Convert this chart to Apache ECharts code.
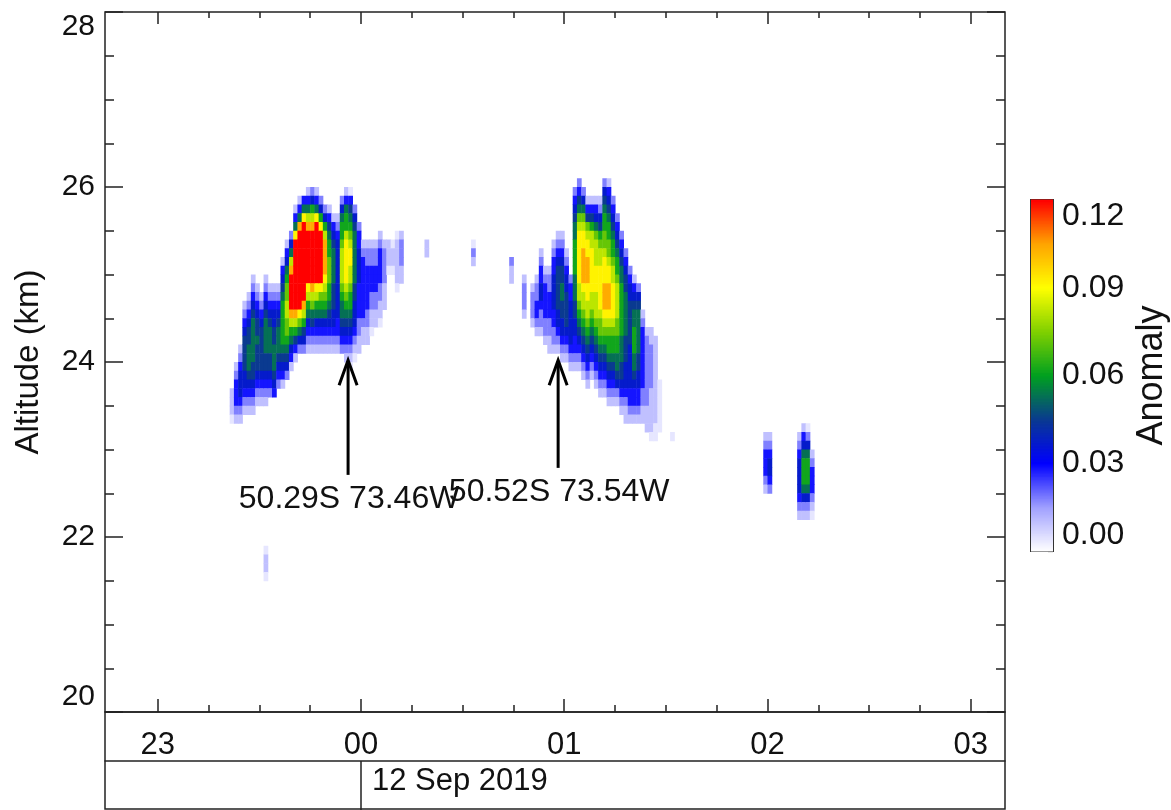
<!DOCTYPE html>
<html>
<head>
<meta charset="utf-8">
<title>Altitude anomaly</title>
<script src="https://cdn.jsdelivr.net/npm/echarts@6/dist/echarts.min.js"></script>
<style>
  html, body { margin: 0; padding: 0; background: #ffffff; }
  #chart { width: 1171px; height: 810px; }
</style>
</head>
<body>
<div id="chart"></div>
<script>
// Retrieval grid: columns of 1.25 min counted from 38.75 min before 00 UT, rows of 0.1 km
const colStartMin = -38.75;
const colMinutes = 1.25;
const rowKm = 0.1;

// Level codes used in the profile strings and the anomaly each code stands for
const levelCodes = '123456789ABCD';
const levelValues = [0.004, 0.010, 0.018, 0.028, 0.037, 0.045, 0.053, 0.062, 0.072, 0.082, 0.092, 0.104, 0.120];

// Western plume: [column, altitude of the top of the first cell (km), levels going down]
const westPlume = [
  [0, 23.7, '2221'],
  [1, 24.0, '2344432'],
  [2, 24.2, '234555432'],
  [3, 24.7, '2345666655432'],
  [4, 24.8, '23456677765432'],
  [5, 25.0, '2345677777665432'],
  [6, 24.9, '23456676665432'],
  [7, 24.8, '2345666665432'],
  [8, 25.0, '234567777665432'],
  [9, 24.9, '2345677766543'],
  [10, 24.9, '2345566777654'],
  [11, 24.9, '234567776543'],
  [12, 25.2, '245678888876542'],
  [13, 25.4, '2457899AA9987653'],
  [14, 25.5, '357ACDDDDCA87542'],
  [15, 25.8, '247BDDDDDDDDCA8642'],
  [16, 25.9, '247CDDDDDDDDDB9753'],
  [17, 25.9, '47BDDDDDDDDDCA8653'],
  [18, 26.0, '247ACDDDDDDBA875432'],
  [19, 26.0, '358ACDDDDDDCA976432'],
  [20, 26.0, '247BDDDDDDDBA875432'],
  [21, 25.9, '358BDDDDDDB9875432'],
  [22, 25.8, '358ACCCCBA9875432'],
  [23, 25.8, '24678899988765432'],
  [24, 25.7, '2456777766655432'],
  [25, 25.7, '2345555555554432'],
  [26, 25.9, '357889AAAA98776543'],
  [27, 26.0, '24788ABBBBBA98765432'],
  [28, 26.0, '146789ABBAA9887654321'],
  [29, 25.8, '356777777665554321'],
  [30, 25.6, '344555544443322'],
  [31, 25.4, '234444444322'],
  [32, 25.4, '233444443322'],
  [33, 25.4, '23344433221'],
  [34, 25.4, '2334443322'],
  [35, 25.5, '23444433221'],
  [36, 25.4, '23333222'],
  [37, 25.4, '2221'],
  [38, 25.4, '1221'],
  [39, 25.5, '1222221'],
  [40, 25.5, '233322']
];

// Eastern plume
const eastPlume = [
  [66, 25.2, '322'],
  [69, 25.0, '23332'],
  [71, 24.9, '23332'],
  [72, 25.0, '2334432'],
  [73, 25.3, '2344554332'],
  [74, 25.1, '234444332'],
  [75, 25.1, '2334443322'],
  [76, 25.4, '2344555544332'],
  [77, 25.5, '23456666655432'],
  [78, 25.5, '234566776655432'],
  [79, 25.3, '2345566665432'],
  [80, 25.0, '34455555432'],
  [81, 26.0, '345677888877766554432'],
  [82, 26.1, '34679ABBBBBBAA98765432'],
  [83, 26.0, '3579ABBCCCCBAA98765432'],
  [84, 25.9, '2469ABBCCCBBAA98765432'],
  [85, 25.9, '2468AABBBBBAA98765432'],
  [86, 25.9, '24579AAABBBAAA98765432'],
  [87, 25.9, '235689AABBBBBA998765432'],
  [88, 26.1, '35678899ABBBCCCBA98765432'],
  [89, 26.1, '245678899ABBCCCBA988765432'],
  [90, 25.9, '34567889AABBBBA988765432'],
  [91, 25.7, '34567889AAAA9988776532'],
  [92, 25.5, '345677888888777665432'],
  [93, 25.3, '34566777776665554322'],
  [94, 25.1, '345566666555554432'],
  [95, 25.0, '24567788877654432'],
  [96, 24.9, '3567777766554432'],
  [97, 24.6, '2344444443322'],
  [98, 24.4, '233333333222'],
  [99, 24.4, '2233333222221'],
  [100, 24.3, '222222222211'],
  [101, 23.8, '111111'],
  [104, 23.2, '1']
];

// Isolated cells and the two small plumes after 02 UT
const otherCells = [
  [8, 21.9, '1221'],
  [46, 25.4, '22'],
  [57, 25.4, '132'],
  [126, 23.2, '2344432'],
  [127, 23.2, '2345543'],
  [134, 23.2, '2345555432'],
  [135, 23.3, '24578887532'],
  [136, 23.3, '13578887532'],
  [137, 23.0, '23444321']
];

// Arrowed positions
const arrowTimes = [-3.8, 58.2];          // minutes from 00 UT
const arrowTips = [24.02, 24.02];         // km
const arrowTails = [22.71, 22.79];        // km
const arrowLabels = ['50.29S 73.46W', '50.52S 73.54W'];

// Time axis (minutes from 00 UT, 12 Sep 2019)
const timeMin = -75.55;
const timeMax = 190.1;
const hourTicks = [-60, 0, 60, 120, 180];
const hourLabels = ['23', '00', '01', '02', '03'];
const quarterTicks = [-45, -30, -15, 15, 30, 45, 75, 90, 105, 135, 150, 165];
const dateText = '12 Sep 2019';

// Colour scale
const anomalyMin = 0;
const anomalyMax = 0.12;
const anomalyColors = ['#ffffff', '#a0a0ff', '#0000ff', '#0a3a90', '#00a020', '#80d000', '#ffff00', '#ffa500', '#ff0000'];

const FONT = '"Liberation Sans", Arial, Helvetica, sans-serif';
const INK = '#111111';

function expand(list) {
  const out = [];
  list.forEach(function (entry) {
    const t = colStartMin + entry[0] * colMinutes;
    const levels = entry[2];
    for (let k = 0; k < levels.length; k++) {
      const idx = levelCodes.indexOf(levels[k]);
      if (idx < 0) continue;
      out.push([t, +(entry[1] - k * rowKm).toFixed(2), levelValues[idx]]);
    }
  });
  return out;
}

const cellData = expand(westPlume).concat(expand(eastPlume), expand(otherCells));

// Colour bar strips
const barSteps = 240;
const barStep = (anomalyMax - anomalyMin) / barSteps;
const barData = [];
for (let i = 0; i < barSteps; i++) {
  const lo = anomalyMin + barStep * i;
  barData.push([0, lo, lo + barStep / 2]);
}

const arrowData = arrowTimes.map(function (t, i) { return [t, arrowTips[i], arrowTails[i]]; });

function renderCell(params, api) {
  const t = api.value(0), top = api.value(1);
  const p0 = api.coord([t, top]);
  const p1 = api.coord([t + colMinutes, top - rowKm]);
  return {
    type: 'rect',
    shape: { x: p0[0], y: p0[1], width: p1[0] - p0[0] + 0.5, height: p1[1] - p0[1] + 0.5 },
    style: { fill: api.visual('color') }
  };
}

function renderBar(params, api) {
  const lo = api.value(1);
  const p0 = api.coord([0, lo + barStep]);
  const p1 = api.coord([1, lo]);
  return {
    type: 'rect',
    shape: { x: p0[0], y: p0[1] - 0.5, width: p1[0] - p0[0], height: p1[1] - p0[1] + 1 },
    style: { fill: api.visual('color') }
  };
}

function renderArrow(params, api) {
  const i = params.dataIndex;
  const tip = api.coord([api.value(0), api.value(1)]);
  const tail = api.coord([api.value(0), api.value(2)]);
  return {
    type: 'group',
    children: [
      { type: 'line', shape: { x1: tail[0], y1: tail[1], x2: tip[0], y2: tip[1] + 1 },
        style: { stroke: '#000', lineWidth: 3 } },
      { type: 'polyline', shape: { points: [[tip[0] - 9, tip[1] + 25], [tip[0], tip[1]], [tip[0] + 9, tip[1] + 25]] },
        style: { stroke: '#000', lineWidth: 3, fill: null, lineJoin: 'miter' } },
      { type: 'text', style: { text: arrowLabels[i], x: tail[0] + 1, y: tail[1] + 24, align: 'center', verticalAlign: 'middle',
        fontSize: 32, fontFamily: FONT, fill: INK } }
    ]
  };
}

const tickLine = { color: '#222', width: 1.5 };

function timeAxis(extra) {
  return Object.assign({
    type: 'value', gridIndex: 0, min: timeMin, max: timeMax,
    splitLine: { show: false },
    axisLine: { show: false, onZero: false },
    axisLabel: { show: false },
    axisTick: { show: false }
  }, extra);
}

const chart = echarts.init(document.getElementById('chart'), null, { renderer: 'canvas' });

chart.setOption({
  animation: false,
  backgroundColor: '#ffffff',
  grid: [
    { left: 105, top: 12, width: 900, height: 700, show: true, borderColor: '#222', borderWidth: 1.5, backgroundColor: 'transparent' },
    { left: 1031, top: 200, width: 25, height: 351, show: true, borderColor: '#333', borderWidth: 2, backgroundColor: 'transparent' }
  ],
  visualMap: {
    type: 'continuous', show: false, min: anomalyMin, max: anomalyMax, dimension: 2,
    seriesIndex: [0, 1], inRange: { color: anomalyColors }
  },
  xAxis: [
    timeAxis({ position: 'bottom',
      axisTick: { show: true, inside: true, length: 13, customValues: hourTicks, lineStyle: tickLine },
      axisLabel: { show: true, customValues: hourTicks, margin: 18, fontSize: 31, fontFamily: FONT, color: INK,
        formatter: function (v) { return hourLabels[hourTicks.indexOf(v)]; } } }),
    timeAxis({ position: 'bottom',
      axisTick: { show: true, inside: true, length: 7, customValues: quarterTicks, lineStyle: tickLine } }),
    timeAxis({ position: 'top',
      axisTick: { show: true, inside: true, length: 12, customValues: hourTicks, lineStyle: tickLine } }),
    timeAxis({ position: 'top',
      axisTick: { show: true, inside: true, length: 6, customValues: quarterTicks, lineStyle: tickLine } }),
    timeAxis({ position: 'bottom', offset: 49,
      axisLine: { show: true, onZero: false, lineStyle: tickLine },
      axisTick: { show: true, inside: false, length: 49, customValues: [0], lineStyle: tickLine },
      axisLabel: { show: true, customValues: [0], margin: 5, align: 'left', padding: [0, 0, 0, 11],
        fontSize: 31, fontFamily: FONT, color: INK, formatter: function () { return dateText; } } }),
    { type: 'value', gridIndex: 1, min: 0, max: 1, show: false }
  ],
  yAxis: [
    { type: 'value', gridIndex: 0, position: 'left', min: 20, max: 28, interval: 2,
      name: 'Altitude (km)', nameLocation: 'middle', nameRotate: 90, nameGap: 60,
      nameTextStyle: { fontSize: 33, fontFamily: FONT, color: INK },
      splitLine: { show: false },
      axisLine: { show: false, onZero: false },
      axisTick: { show: true, inside: true, length: 18, lineStyle: tickLine },
      minorTick: { show: true, splitNumber: 4, length: 9, lineStyle: tickLine },
      axisLabel: { fontSize: 30, fontFamily: FONT, color: INK, margin: 10,
        verticalAlignMaxLabel: 'top', verticalAlignMinLabel: 'bottom' } },
    { type: 'value', gridIndex: 0, position: 'right', min: 20, max: 28, interval: 2,
      splitLine: { show: false },
      axisLine: { show: false, onZero: false },
      axisTick: { show: true, inside: true, length: 18, lineStyle: tickLine },
      minorTick: { show: true, splitNumber: 4, length: 9, lineStyle: tickLine },
      axisLabel: { show: false } },
    { type: 'value', gridIndex: 1, position: 'right', min: anomalyMin, max: anomalyMax, interval: 0.03,
      name: 'Anomaly', nameLocation: 'middle', nameRotate: 90, nameGap: 81,
      nameTextStyle: { fontSize: 36, fontFamily: FONT, color: INK },
      splitLine: { show: false },
      axisLine: { show: false, onZero: false },
      axisTick: { show: true, inside: true, length: 5, lineStyle: { color: '#222', width: 1.2 } },
      minorTick: { show: true, splitNumber: 2, length: 5, lineStyle: { color: '#222', width: 1.2 } },
      axisLabel: { fontSize: 32, fontFamily: FONT, color: INK, margin: 9,
        verticalAlignMaxLabel: 'top', verticalAlignMinLabel: 'bottom',
        formatter: function (v) { return v.toFixed(2); } } }
  ],
  series: [
    { type: 'custom', name: 'anomaly', xAxisIndex: 0, yAxisIndex: 0, data: cellData,
      encode: { x: 0, y: 1 }, renderItem: renderCell, clip: true, silent: true, z: 1 },
    { type: 'custom', name: 'colour bar', xAxisIndex: 5, yAxisIndex: 2, data: barData,
      encode: { x: 0, y: 1 }, renderItem: renderBar, silent: true, z: 1 },
    { type: 'custom', name: 'arrows', xAxisIndex: 0, yAxisIndex: 0, data: arrowData,
      encode: { x: 0, y: 1 }, renderItem: renderArrow, silent: true, z: 5 }
  ],
  graphic: [
    { type: 'rect', silent: true, z: 10,
      shape: { x: 105, y: 712, width: 900, height: 97 },
      style: { fill: null, stroke: '#222', lineWidth: 1.5 } }
  ]
});
</script>
</body>
</html>
